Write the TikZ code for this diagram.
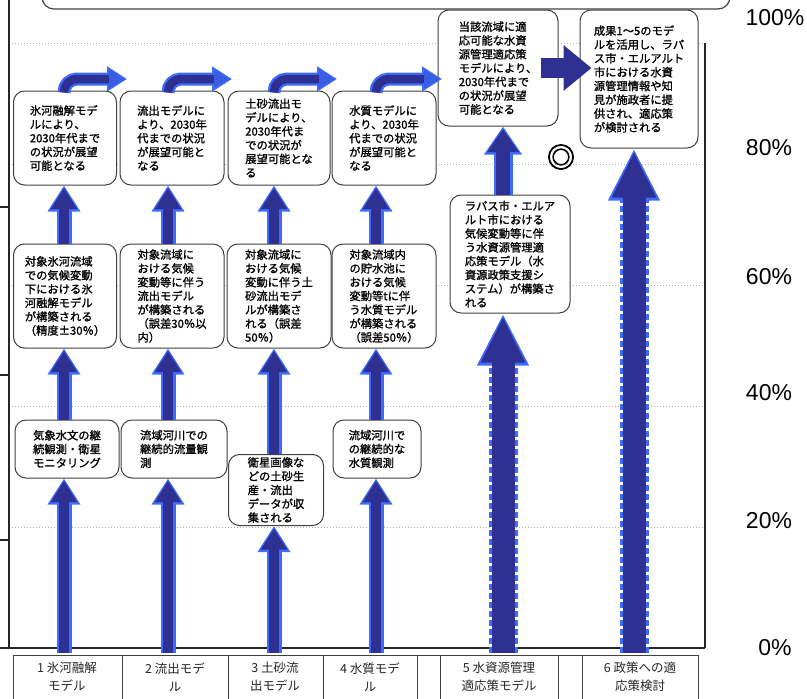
\documentclass[tikz,border=0pt]{standalone}
\usepackage{fontspec}
\setmainfont{Noto Sans CJK JP}
\newfontfamily\boxfont[FakeBold=1.2]{Noto Sans CJK JP}
\newfontfamily\markfont[FakeBold=2.5]{Noto Sans CJK JP}
\newfontfamily\pctfont{Liberation Sans}
\usetikzlibrary{arrows.meta,calc}
\definecolor{navy}{HTML}{2E3192}
\definecolor{arrblue}{HTML}{3D6BFF}
\definecolor{boxline}{HTML}{404040}
\definecolor{gridgray}{HTML}{B0B0B0}
\newcommand\arrpair[3]{\draw[#1Out] #2 -- #3; \draw[#1In] #2 -- #3;}
\newcommand\bentpair[2]{\draw[bentOut] #1 |- #2; \draw[bentIn] #1 |- #2;}
\begin{document}
\begin{tikzpicture}[x=1pt,y=-1pt,
  box/.style={draw=boxline, line width=1pt, rounded corners=11pt, fill=white,
    align=left, inner sep=1pt, font=\boxfont\fontsize{11.3}{13.8}\selectfont},
  lbl/.style={align=center, font=\fontsize{12.5}{18}\selectfont, text=black!85},
  pct/.style={font=\pctfont\fontsize{23}{23}\selectfont},
  grid/.style={gridgray, dotted, line width=1pt},
  axis/.style={black!85, line width=1.2pt},
  smallOut/.style={draw=arrblue, line width=15pt, -{Triangle[width=31pt,length=26pt]}},
  smallIn/.style={draw=navy, line width=10pt, -{Triangle[width=25pt,length=21pt]}, shorten >=2.5pt},
  midOut/.style={draw=arrblue, line width=19pt, -{Triangle[width=36pt,length=28pt]}},
  midIn/.style={draw=navy, line width=14pt, -{Triangle[width=30pt,length=23pt]}, shorten >=2.5pt},
  wideOut/.style={draw=arrblue, line width=29pt, dash pattern=on 6pt off 3pt, -{Triangle[width=48pt,length=52pt]}},
  wideIn/.style={draw=navy, line width=23pt, -{Triangle[width=41pt,length=46pt]}, shorten >=3pt},
  bentOut/.style={draw=arrblue, line width=13pt, rounded corners=13pt, -{Triangle[width=24pt,length=20pt]}},
  bentIn/.style={draw=navy, line width=8.5pt, rounded corners=13pt, -{Triangle[width=18pt,length=16pt,color=arrblue!75!navy]}, shorten >=2pt},
  blockArr/.style={draw=navy, line width=20pt, -{Triangle[width=44pt,length=28pt]}}
]
\useasboundingbox (0,0) rectangle (807,699);
\clip (0,0) rectangle (807,699);

% grid lines
\foreach \yy in {43,164,285,406,527} \draw[grid] (12,\yy) -- (703,\yy);

% top frame (only its bottom is visible)
\draw[boxline, line width=1.2pt, rounded corners=12pt] (42,-40) rectangle (730,9);

% axes
\draw[axis] (9,0) -- (9,648);
\foreach \yy in {207,375,540} \draw[axis] (0,\yy) -- (9,\yy);
\draw[axis] (0,648) -- (705,648);
\draw[axis] (705,43) -- (705,648);

% percentage labels
\node[pct] (p100) at (775,18) {100\%};
\node[pct] (p80) at (769,148) {80\%};
\node[pct] (p60) at (769,277) {60\%};
\node[pct] (p40) at (769,393) {40\%};
\node[pct] (p20) at (769,521) {20\%};
\node[pct] (p0) at (775,648) {0\%};

% bottom label table
\draw[boxline, line width=1pt] (13,655) -- (698,655);
\foreach \xx in {13,122,228,323,417,440,558,582,698} \draw[boxline, line width=1pt] (\xx,655) -- (\xx,702);
\node[lbl] (l1) at (67,677) {1 氷河融解\\モデル};
\node[lbl] (l2) at (175,677) {2 流出モデ\\ル};
\node[lbl] (l3) at (275,677) {3 土砂流\\出モデル};
\node[lbl] (l4) at (370,677) {4 水質モデ\\ル};
\node[lbl] (l5) at (499,677) {5 水資源管理\\適応策モデル};
\node[lbl] (l6) at (640,677) {6 政策への適\\応策検討};

% column axes (free ends of the rising arrows)
\coordinate (b1) at (64,653);
\coordinate (b2) at (168,653);
\coordinate (b3) at (274,653);
\coordinate (b4) at (376,653);
\coordinate (b5) at (503,653);
\coordinate (b6) at (634,653);
\coordinate (e1) at (127,79);
\coordinate (e2) at (232,79);
\coordinate (e3) at (337,79);
\coordinate (e4) at (442,79);

% boxes
\node[box, minimum width=103pt, minimum height=94pt] (t1) at (65,138) {氷河融解モデ\\ルにより、\\2030年代まで\\の状況が展望\\可能となる};
\node[box, minimum width=104pt, minimum height=94pt] (t2) at (172,138) {流出モデルに\\より、2030年\\代までの状況\\が展望可能と\\なる};
\node[box, minimum width=102pt, minimum height=94pt] (t3) at (279,138) {土砂流出モ\\デルにより、\\2030年代ま\\での状況が\\展望可能とな\\る};
\node[box, minimum width=104pt, minimum height=94pt] (t4) at (384,138) {水質モデルに\\より、2030年\\代までの状況\\が展望可能と\\なる};
\node[box, minimum width=120pt, minimum height=116pt] (t5) at (498,68) {当該流域に適\\応可能な水資\\源管理適応策\\モデルにより、\\2030年代まで\\の状況が展望\\可能となる};
\node[box, minimum width=118pt, minimum height=138pt] (t6) at (639,79) {成果1～5のモデ\\ルを活用し、ラパ\\ス市・エルアルト\\市における水資\\源管理情報や知\\見が施政者に提\\供され、適応策\\が検討される};

\node[box, minimum width=103pt, minimum height=104pt] (m1) at (65,296) {対象氷河流域\\での気候変動\\下における氷\\河融解モデル\\が構築される\\（精度±30％）};
\node[box, minimum width=104pt, minimum height=104pt] (m2) at (172,296) {対象流域に\\おける気候\\変動等に伴う\\流出モデル\\が構築される\\（誤差30％以\\内）};
\node[box, minimum width=104pt, minimum height=104pt] (m3) at (279,296) {対象流域に\\おける気候\\変動に伴う土\\砂流出モデ\\ルが構築さ\\れる（誤差\\50％）};
\node[box, minimum width=104pt, minimum height=104pt] (m4) at (384,296) {対象流域内\\の貯水池に\\おける気候\\変動等tに伴\\う水質モデル\\が構築される\\（誤差50％）};
\node[box, minimum width=120pt, minimum height=118pt] (m5) at (510,254) {ラパス市・エルア\\ルト市における\\気候変動等に伴\\う水資源管理適\\応策モデル（水\\資源政策支援シ\\ステム）が構築さ\\れる};

\node[box, minimum width=104pt, minimum height=58pt] (u1) at (67,449) {気象水文の継\\続観測・衛星\\モニタリング};
\node[box, minimum width=106pt, minimum height=58pt] (u2) at (174,449) {流域河川での\\継続的流量観\\測};
\node[box, minimum width=95pt, minimum height=71pt] (u3) at (276,490) {衛星画像な\\どの土砂生\\産・流出\\データが収\\集される};
\node[box, minimum width=88pt, minimum height=58pt] (u4) at (377,449) {流域河川で\\の継続的な\\水質観測};

\node[font=\markfont\fontsize{28}{28}\selectfont] (mark) at (561,157) {◎};

% rising arrows, columns 1-4
\arrpair{small}{(b1)}{(b1 |- u1.south)}
\arrpair{small}{(b1 |- u1.north)}{(b1 |- m1.south)}
\arrpair{small}{(b1 |- m1.north)}{(b1 |- t1.south)}
\arrpair{small}{(b2)}{(b2 |- u2.south)}
\arrpair{small}{(b2 |- u2.north)}{(b2 |- m2.south)}
\arrpair{small}{(b2 |- m2.north)}{(b2 |- t2.south)}
\arrpair{small}{(b3)}{(b3 |- u3.south)}
\arrpair{small}{(b3 |- u3.north)}{(b3 |- m3.south)}
\arrpair{small}{(b3 |- m3.north)}{(b3 |- t3.south)}
\arrpair{small}{(b4)}{(b4 |- u4.south)}
\arrpair{small}{(b4 |- u4.north)}{(b4 |- m4.south)}
\arrpair{small}{(b4 |- m4.north)}{(b4 |- t4.south)}

% bent arrows on top of columns 1-4
\bentpair{(b1 |- t1.north)}{(e1)}
\bentpair{(b2 |- t2.north)}{(e2)}
\bentpair{(b3 |- t3.north)}{(e3)}
\bentpair{(b4 |- t4.north)}{(e4)}

% columns 5 and 6
\arrpair{wide}{(b5)}{(b5 |- m5.south)}
\arrpair{mid}{(b5 |- m5.north)}{(b5 |- t5.south)}
\arrpair{wide}{(b6)}{(b6 |- t6.south)}
\draw[blockArr] ($(t5.east)+(-18,0)$) -- ($(t5.east -| t6.west)+(12,0)$);
\end{tikzpicture}
\end{document}
